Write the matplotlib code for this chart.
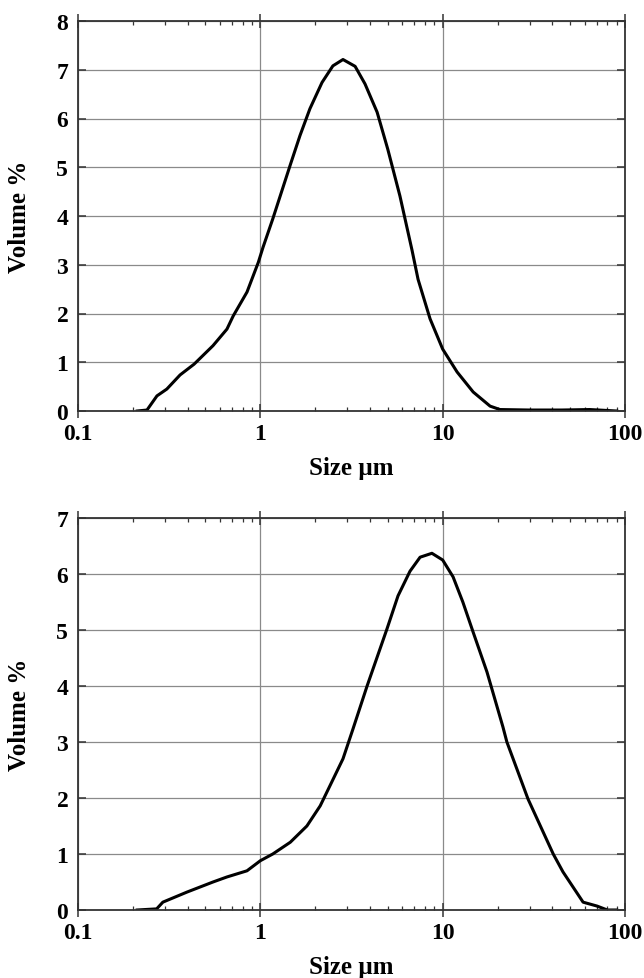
import matplotlib.pyplot as plt
import numpy as np
from matplotlib.ticker import LogLocator, NullFormatter

plt.rcParams['font.family'] = ['Liberation Serif', 'DejaVu Serif']
plt.rcParams['font.weight'] = 'bold'

# top panel: size (um) vs volume %
size_a = [0.211, 0.239, 0.271, 0.307, 0.363, 0.433, 0.55, 0.656, 0.71, 0.845, 0.975,
          1.035, 1.17, 1.46, 1.65, 1.87, 2.18, 2.5, 2.84, 3.31, 3.75, 4.37, 5.0, 5.83,
          6.79, 7.33, 8.53, 10.0, 12.0, 14.7, 18.2, 20.6, 30.0, 45.0, 64.0, 90.0]
vol_a = [0.0, 0.02, 0.31, 0.45, 0.74, 0.96, 1.34, 1.68, 1.95, 2.44, 3.05,
         3.36, 3.94, 5.05, 5.65, 6.2, 6.74, 7.08, 7.21, 7.07, 6.71, 6.13, 5.37, 4.41,
         3.3, 2.7, 1.89, 1.27, 0.8, 0.39, 0.1, 0.03, 0.02, 0.02, 0.03, 0.0]

# bottom panel
size_b = [0.211, 0.27, 0.292, 0.396, 0.55, 0.656, 0.845, 1.0, 1.17, 1.46, 1.80,
          2.13, 2.41, 2.84, 3.22, 3.85, 4.95, 5.69, 6.62, 7.52, 8.73, 10.0, 11.4,
          12.9, 14.7, 17.5, 21.4, 22.5, 29.4, 40.4, 45.7, 58.9, 70.3, 80.0, 90.0]
vol_b = [0.0, 0.02, 0.14, 0.32, 0.5, 0.59, 0.70, 0.88, 1.0, 1.21, 1.5,
         1.86, 2.22, 2.7, 3.23, 4.0, 5.02, 5.61, 6.05, 6.3, 6.37, 6.25, 5.95,
         5.5, 4.96, 4.25, 3.27, 3.0, 1.98, 1.0, 0.68, 0.14, 0.07, 0.0, 0.0]

x_ticks = [0.1, 1, 10, 100]
x_labels = ['0.1', '1', '10', '100']

fig = plt.figure(figsize=(6.44, 9.79), dpi=100)
ax1 = fig.add_axes([78/644, 567/979, 547/644, 390/979])
ax2 = fig.add_axes([78/644, 68/979, 547/644, 392/979])


def style(ax, ymax):
    ax.set_xscale('log')
    ax.set_xlim(0.1, 100)
    ax.set_ylim(0, ymax)
    ax.set_xticks(x_ticks, x_labels)
    ax.xaxis.set_minor_locator(LogLocator(base=10, subs=np.arange(2, 10)))
    ax.xaxis.set_minor_formatter(NullFormatter())
    ax.set_yticks(range(0, ymax + 1))
    ax.grid(True, which='major', color='#8a8a8a', linewidth=0.9)
    ax.tick_params(axis='x', which='major', direction='inout', length=10,
                   width=1.1, top=True, bottom=True, pad=4, labelsize=17,
                   color='#333333')
    ax.tick_params(axis='x', which='minor', direction='in', length=3,
                   width=0.9, top=True, bottom=True, color='#333333')
    ax.tick_params(axis='y', which='major', direction='in', length=6,
                   width=1.1, left=True, right=True, pad=7, labelsize=17,
                   color='#333333')
    for s in ax.spines.values():
        s.set_color('#333333')
        s.set_linewidth(1.3)
    ax.set_xlabel('Size µm', fontsize=18, fontweight='bold')
    ax.set_ylabel('Volume %', fontsize=18, fontweight='bold')
    ax.xaxis.set_label_coords(0.5, -0.115)
    ax.yaxis.set_label_coords(-0.086, 0.5)


ax1.plot(size_a, vol_a, color='black', linewidth=2.2)
style(ax1, 8)

ax2.plot(size_b, vol_b, color='black', linewidth=2.2)
style(ax2, 7)

fig.savefig('out.png', dpi=100)
